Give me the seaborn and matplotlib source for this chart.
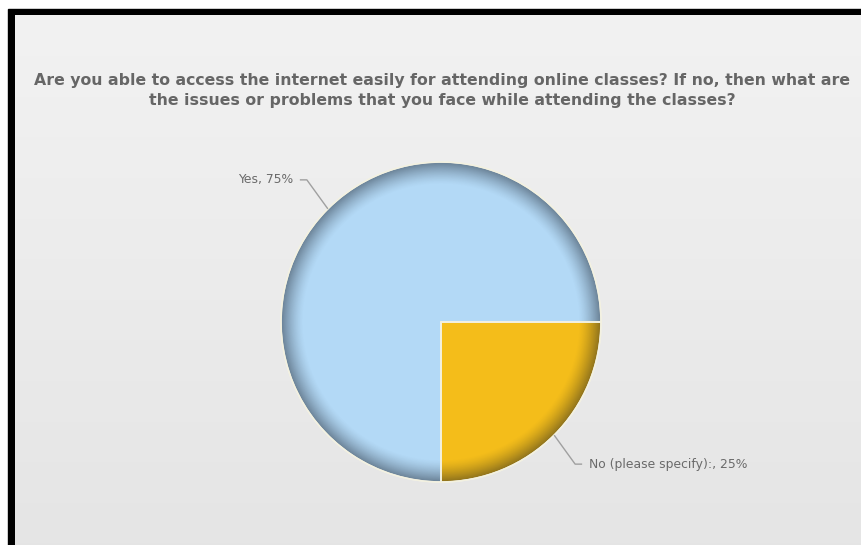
import numpy as np
import matplotlib
matplotlib.use("Agg")
import matplotlib.pyplot as plt
from matplotlib.patches import Circle, Rectangle, Wedge
import seaborn as sns

# Survey answers
categories = ["Yes", "No (please specify):"]
shares = [75, 25]
slice_colors = ["#b3d9f6", "#f4bd1a"]
title_lines = ["Are you able to access the internet easily for attending online classes? If no, then what are",
               "the issues or problems that you face while attending the classes?"]

sns.set_theme(style="white")
plt.rcParams["font.family"] = ["DejaVu Sans"]

W, H = 861, 545
fig = plt.figure(figsize=(W / 100, H / 100), dpi=100)
ax = fig.add_axes([0, 0, 1, 1])

# panel background: black frame and soft vertical gradient
ax.add_patch(Rectangle((0, 0), W, H, color="white", zorder=0))
ax.add_patch(Rectangle((8, 0), W - 8, H - 9, color="black", zorder=0.5))
grad = np.linspace(0, 1, 256)[:, None]
top = np.array([0.949, 0.949, 0.949])
bot = np.array([0.898, 0.898, 0.898])
bg = top[None, None, :] * (1 - grad[..., None]) + bot[None, None, :] * grad[..., None]
ax.imshow(bg, extent=(15, W, 0, H - 15), origin="upper", aspect="auto", zorder=1)

# pie
cx, cy, R = 441, 223, 160
wedges, _ = ax.pie(shares, colors=slice_colors, startangle=0, counterclock=True,
                   center=(cx, cy), radius=R, frame=True,
                   wedgeprops=dict(edgecolor="none", linewidth=0, zorder=3))
ax.set_xlim(0, W)
ax.set_ylim(0, H)
ax.set_aspect("equal")
ax.axis("off")

# rim shading inside the pie
n = 500
xs = np.linspace(cx - R, cx + R, n)
ys = np.linspace(cy - R, cy + R, n)
XX, YY = np.meshgrid(xs, ys)
rr = np.hypot(XX - cx, YY - cy) / R
t = np.clip((rr - 0.86) / 0.14, 0, 1)
alpha = 0.45 * t ** 1.4
shade = np.zeros((n, n, 4))
shade[..., 0] = 0.06
shade[..., 1] = 0.08
shade[..., 2] = 0.12
shade[..., 3] = alpha
im = ax.imshow(shade, extent=(cx - R, cx + R, cy - R, cy + R), origin="lower",
               aspect="auto", zorder=4, interpolation="bilinear")
im.set_clip_path(Circle((cx, cy), R, transform=ax.transData))
ax.add_patch(Circle((cx, cy), R, fill=False, edgecolor="#f4f4f0", linewidth=1.0, zorder=5))
# slice separators over the shading
for w in wedges:
    ax.add_patch(Wedge(w.center, w.r, w.theta1, w.theta2, fill=False,
                       edgecolor="#f3f1e0", linewidth=1.2, zorder=5))

# labels with connectors
label_color = "#6a6a6a"
line_color = "#a0a0a0"
cum = np.cumsum([0] + shares)
for i, (cat, val) in enumerate(zip(categories, shares)):
    mid = np.deg2rad((cum[i] + cum[i + 1]) / 2 / 100 * 360)
    ex, ey = cx + R * np.cos(mid), cy + R * np.sin(mid)
    sx = np.sign(np.cos(mid))
    sy = np.sign(np.sin(mid))
    kx, ky = ex + sx * 21, ey + sy * 29
    hx = kx + sx * 7
    ax.plot([ex, kx, hx], [ey, ky, ky], color=line_color, linewidth=1, zorder=6,
            solid_capstyle="butt")
    ax.text(hx + sx * 7, ky, f"{cat}, {val}%", ha="left" if sx > 0 else "right",
            va="center", fontsize=8.9, color=label_color, zorder=6)

for k, line in enumerate(title_lines):
    ax.text(442, H - (80 + 20 * k), line, ha="center", va="center", fontsize=11.35,
            fontweight="bold", color="#666666", zorder=6)

fig.savefig("out.png", dpi=100)
